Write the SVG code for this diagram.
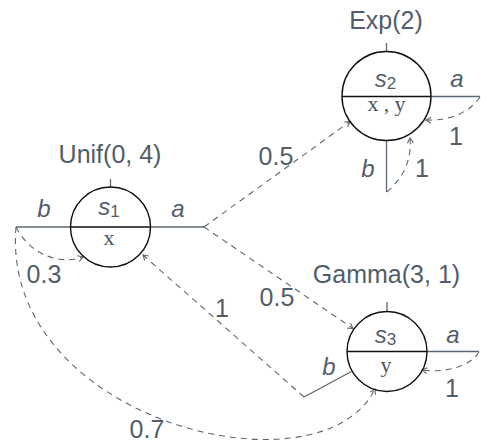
<svg xmlns="http://www.w3.org/2000/svg" width="481" height="445" viewBox="0 0 481 445">
<style>
.t{font-family:"Liberation Sans",Arial,sans-serif;font-size:25px;fill:#525d69;text-anchor:middle}
.m{font-family:"Liberation Sans",Arial,sans-serif;font-size:24px;font-style:italic;fill:#525d69;text-anchor:middle}
.sub{font-style:normal;font-size:17px}
.tt{font-family:"Liberation Serif","Times New Roman",serif;font-size:22px;fill:#4a5560;text-anchor:middle}
.stub{stroke:#5c6773;stroke-width:1.3;fill:none}
.circ{stroke:#111;stroke-width:1.4;fill:none}
.bar{stroke:#111;stroke-width:1.4}
.dash{stroke:#5c6773;stroke-width:1.1;fill:none;stroke-dasharray:6,5;marker-end:url(#arr)}
</style>
<defs>
<marker id="arr" markerUnits="userSpaceOnUse" markerWidth="12" markerHeight="12" refX="0" refY="0" viewBox="-6 -6 12 12" orient="auto">
<path d="M-5,-3 L0,0 L-5,3" fill="none" stroke="#5c6773" stroke-width="1.1"/>
</marker>
</defs>
<rect width="481" height="445" fill="#fff"/>

<g id="connectors">
<path class="dash" d="M204,227 L350,121.5"/>
<path class="dash" d="M204,227 L353,328.5"/>
<path class="dash" d="M304,397 L143,255"/>
<path class="dash" d="M16,227 C30,255 60,265 83,257"/>
<path class="dash" d="M16,227 C0,420 320,500 375,389"/>
<path class="dash" d="M480,97 C470,112 450,121 426,120"/>
<path class="dash" d="M387,192 C400,180 412,165 410,138"/>
<path class="dash" d="M479,352 C470,367 445,373 422,370"/>
<text class="t" x="276" y="165">0.5</text>
<text class="t" x="277" y="306">0.5</text>
<text class="t" x="222" y="317">1</text>
<text class="t" x="44" y="283">0.3</text>
<text class="t" x="147" y="438">0.7</text>
<text class="t" x="456" y="145">1</text>
<text class="t" x="422" y="177">1</text>
<text class="t" x="452" y="397">1</text>
</g>

<g id="s1">
<line class="stub" x1="110.5" y1="179" x2="110.5" y2="187"/>
<line class="stub" x1="16" y1="227" x2="71" y2="227"/>
<line class="stub" x1="150" y1="227" x2="204" y2="227"/>
<circle class="circ" cx="110.5" cy="227" r="40"/>
<line class="bar" x1="70.5" y1="227" x2="150.5" y2="227"/>
<text class="t" x="110" y="163">Unif(0, 4)</text>
<text class="m" x="44" y="217">b</text>
<text class="m" x="178" y="217">a</text>
<text class="m" x="109" y="215">s<tspan class="sub" dy="2">1</tspan></text>
<text class="tt" x="109" y="245">x</text>
</g>

<g id="s2">
<line class="stub" x1="386.5" y1="43" x2="386.5" y2="51.5"/>
<line class="stub" x1="431" y1="96.5" x2="480" y2="96.5"/>
<line class="stub" x1="386.5" y1="140.5" x2="386.5" y2="192"/>
<circle class="circ" cx="386.5" cy="96" r="44.5"/>
<line class="bar" x1="342" y1="96.5" x2="431" y2="96.5"/>
<text class="t" x="386" y="29">Exp(2)</text>
<text class="m" x="385.5" y="87">s<tspan class="sub" dy="2">2</tspan></text>
<text class="tt" y="111"><tspan x="373">x</tspan><tspan x="386.5">,</tspan><tspan x="400">y</tspan></text>
<text class="m" x="457" y="87">a</text>
<text class="m" x="368" y="177">b</text>
</g>

<g id="s3">
<line class="stub" x1="387" y1="302" x2="387" y2="311.5"/>
<line class="stub" x1="427" y1="351.5" x2="479" y2="351.5"/>
<line class="stub" x1="351.5" y1="371.5" x2="304" y2="397"/>
<circle class="circ" cx="387" cy="351.5" r="40"/>
<line class="bar" x1="347" y1="351.5" x2="427" y2="351.5"/>
<text class="t" x="386.5" y="283">Gamma(3, 1)</text>
<text class="m" x="385.5" y="343">s<tspan class="sub" dy="2">3</tspan></text>
<text class="tt" x="386" y="372">y</text>
<text class="m" x="453" y="343">a</text>
<text class="m" x="329" y="375">b</text>
</g>
</svg>
